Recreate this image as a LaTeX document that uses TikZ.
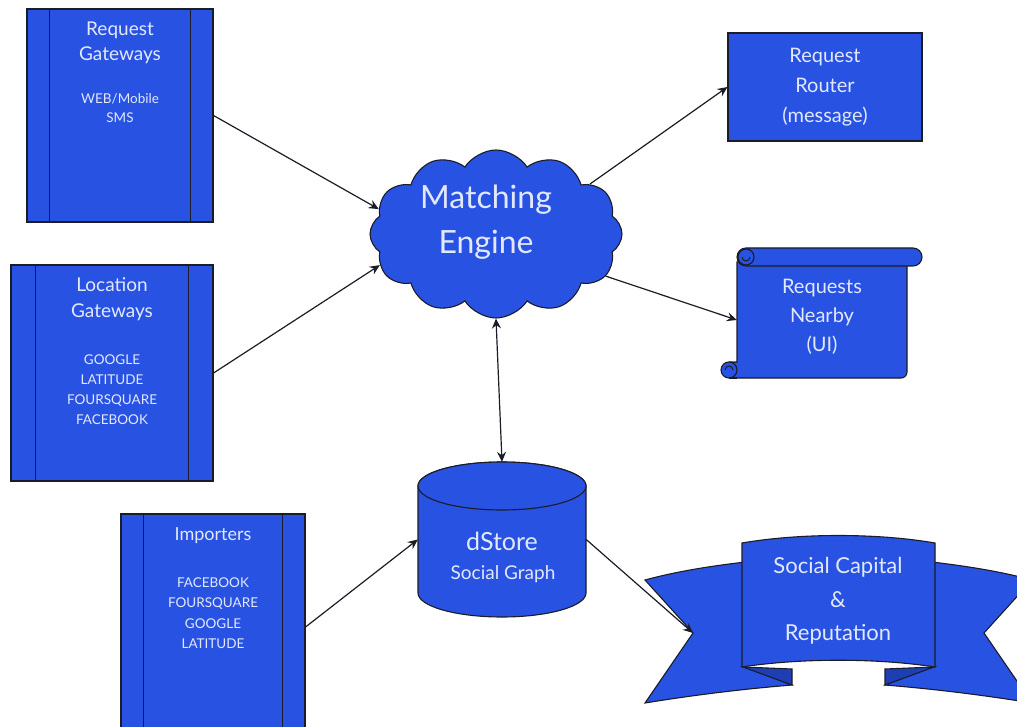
\documentclass[tikz,border=0pt]{standalone}
\usepackage{fontspec}
\setmainfont{Lato}
\usetikzlibrary{shapes.symbols,arrows.meta}
\definecolor{boxblue}{RGB}{40,82,226}
\definecolor{foldblue}{RGB}{30,62,180}
\definecolor{labeltext}{RGB}{226,232,255}
\definecolor{inkline}{RGB}{28,28,40}

\begin{document}
\begin{tikzpicture}[x=1pt,y=-1pt,
  shapefill/.style={fill=boxblue, draw=inkline, line width=1.1pt},
  gatebox/.style={rectangle, shapefill, inner sep=0pt},
  innerline/.style={draw=inkline, line width=1.4pt},
  lbl/.style={text=labeltext, align=center, inner sep=0pt},
  tip/.tip={Stealth[length=10pt,width=9pt,inset=3.5pt]},
  conn/.style={draw=inkline, line width=1.2pt, -tip},
  biconn/.style={draw=inkline, line width=1.2pt, tip-tip},
  anchorbox/.style={rectangle, inner sep=0pt}]
\clip (0,0) rectangle (1017,727);
\fill[white] (0,0) rectangle (1017,727);

% ---- gateway / importer panels ----
\node[gatebox, minimum width=186pt, minimum height=213pt] (rg) at (120,115.5) {};
\draw[innerline] ([xshift=23pt]rg.north west) -- ([xshift=23pt]rg.south west);
\draw[innerline] ([xshift=-23pt]rg.north east) -- ([xshift=-23pt]rg.south east);
\node[lbl, font=\fontsize{19}{25}\selectfont] (rgt) at (120,43) {Request\\Gateways};
\node[lbl, font=\fontsize{13.5}{19}\selectfont] (rgs) at (120,108) {WEB/Mobile\\SMS};

\node[gatebox, minimum width=202pt, minimum height=216pt] (loc) at (112,373) {};
\draw[innerline] ([xshift=25pt]loc.north west) -- ([xshift=25pt]loc.south west);
\draw[innerline] ([xshift=-25pt]loc.north east) -- ([xshift=-25pt]loc.south east);
\node[lbl, font=\fontsize{19}{26}\selectfont] (loct) at (112,299) {Location\\Gateways};
\node[lbl, font=\fontsize{13.5}{20}\selectfont] (locs) at (112,390) {GOOGLE\\LATITUDE\\FOURSQUARE\\FACEBOOK};

\node[gatebox, minimum width=184pt, minimum height=226pt] (imp) at (213,627) {};
\draw[innerline] ([xshift=23pt]imp.north west) -- ([xshift=23pt]imp.south west);
\draw[innerline] ([xshift=-23pt]imp.north east) -- ([xshift=-23pt]imp.south east);
\node[lbl, font=\fontsize{18}{24}\selectfont] (impt) at (213,536) {Importers};
\node[lbl, font=\fontsize{13.5}{20.5}\selectfont] (imps) at (213,613) {FACEBOOK\\FOURSQUARE\\GOOGLE\\LATITUDE};

% ---- matching engine cloud ----
\node[cloud, cloud puffs=12, cloud puff arc=115, aspect=1.5, shapefill,
      minimum width=252pt, minimum height=168pt, inner sep=0pt] (me) at (496,234) {};
\node[lbl, font=\fontsize{32}{45}\selectfont] (met) at (486,222) {Matching\\Engine};

% ---- request router ----
\node[gatebox, minimum width=194pt, minimum height=108pt] (rr) at (825,87) {};
\node[lbl, font=\fontsize{20}{30}\selectfont] (rrt) at (825,87) {Request\\Router\\(message)};

% ---- requests nearby scroll ----
\draw[shapefill] (729,362) -- (737,362) -- (737,262) -- (907,262) -- (907,370)
  [rounded corners=6] -- (907,378) [sharp corners] -- (729,378);
\draw[shapefill] (729,370) circle[radius=8];
\draw[inkline, line width=1pt] (725,370) arc[start angle=180, end angle=360, radius=4];
\draw[shapefill] (737,378) -- (729,378);
\draw[shapefill, rounded corners=9] (737,248) rectangle (922,266);
\draw[shapefill] (746,257) circle[radius=8];
\draw[inkline, line width=1pt] (742,257) arc[start angle=180, end angle=0, radius=4];
\node[anchorbox, minimum width=170pt, minimum height=116pt] (rn) at (822,320) {};
\node[lbl, font=\fontsize{20}{29}\selectfont] (rnt) at (822,317) {Requests\\Nearby\\(UI)};

% ---- dStore cylinder ----
\draw[shapefill] (418,486) -- (418,593)
  arc[start angle=180, end angle=0, x radius=84, y radius=24] -- (586,486)
  arc[start angle=0, end angle=-180, x radius=84, y radius=24] -- cycle;
\draw[shapefill] (502,486) ellipse[x radius=84, y radius=24];
\node[anchorbox, minimum width=168pt, minimum height=155pt] (db) at (502,539.5) {};
\node[lbl, font=\fontsize{25}{30}\selectfont] (dbt) at (502,541) {dStore};
\node[lbl, font=\fontsize{19}{24}\selectfont] (dbs) at (503,574) {Social Graph};

% ---- social capital ribbon ----
\draw[shapefill] (645,580) .. controls (678,571) and (712,566) .. (745,562)
  -- (745,667) -- (792,685) .. controls (743,689) and (694,695) .. (645,703)
  -- (693,633) -- cycle;
\draw[shapefill] (1032,580) .. controls (999,571) and (965,566) .. (932,562)
  -- (932,667) -- (885,685) .. controls (934,689) and (983,695) .. (1032,703)
  -- (984,633) -- cycle;
\draw[fill=foldblue, draw=inkline, line width=1.1pt] (743,667) -- (792,669) -- (792,685) -- cycle;
\draw[fill=foldblue, draw=inkline, line width=1.1pt] (934,667) -- (885,669) -- (885,685) -- cycle;
\draw[shapefill] (742,543) .. controls (800,533) and (877,533) .. (935,543)
  -- (935,667) .. controls (877,658) and (800,658) .. (742,667) -- cycle;
\coordinate (notch) at (693,633);
\node[lbl, font=\fontsize{22}{33.5}\selectfont] (sct) at (838,601) {Social Capital\\\&\\Reputation};

% ---- connectors ----
\draw[conn] (rg.east) -- (me.168);
\draw[conn] (loc.east) -- (me.195);
\draw[conn] (me.28) -- (rr.west);
\draw[conn] (me.339) -- (rn.west);
\draw[biconn] (me.south) -- (db.north);
\draw[conn] (imp.east) -- (db.west);
\draw[conn] (db.east) -- (notch);
\end{tikzpicture}
\end{document}
